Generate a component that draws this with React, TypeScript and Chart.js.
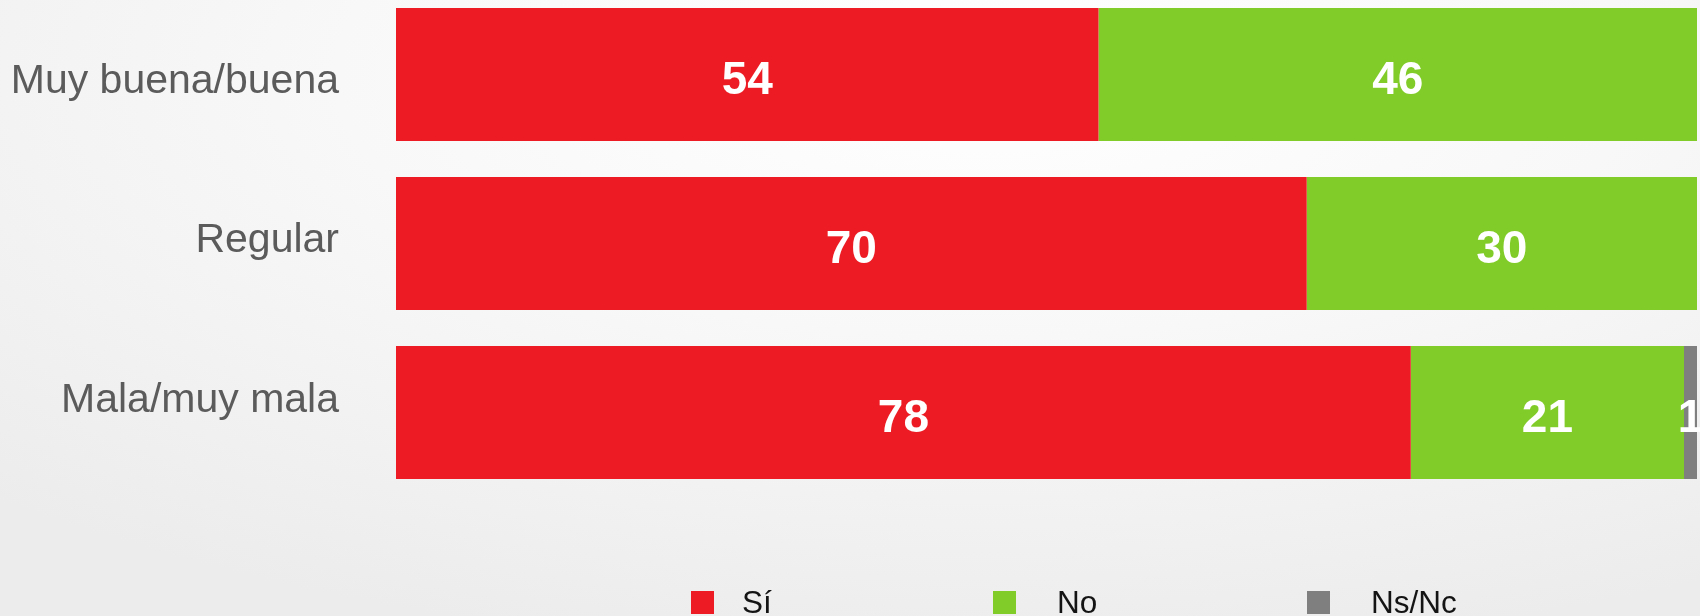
import React, { useEffect, useRef } from "react";
import { Chart, registerables } from "chart.js";

Chart.register(...registerables);

const categories = ["Muy buena/buena", "Regular", "Mala/muy mala"];
const seriesNames = ["Sí", "No", "Ns/Nc"];
const siValues = [54, 70, 78];
const noValues = [46, 30, 21];
const nsncValues = [0, 0, 1];
const seriesColors = ["#ed1c24", "#81cc28", "#7f7f80"];

// layout only: legend item positions and category-label baseline nudges
const legendBoxX = [691, 993, 1307];
const legendTextX = [742, 1057, 1371];
const labelBaselineNudge = [18.5, 8.5, -1];

const categoryLabelsPlugin = {
  id: "categoryLabels",
  afterDraw(chart: any) {
    const ctx = chart.ctx;
    const yScale = chart.scales.y;
    ctx.save();
    ctx.fillStyle = "#5b5b5b";
    ctx.font = "41px 'Liberation Sans', Arial, sans-serif";
    ctx.textAlign = "right";
    ctx.textBaseline = "alphabetic";
    (chart.data.labels as string[]).forEach((label: string, i: number) => {
      const y = yScale.getPixelForTick(i) + (labelBaselineNudge[i] ?? 15);
      ctx.fillText(label, chart.chartArea.left - 57, y);
    });
    ctx.restore();
  },
};

const valueLabelsPlugin = {
  id: "valueLabels",
  afterDatasetsDraw(chart: any) {
    const ctx = chart.ctx;
    ctx.save();
    ctx.fillStyle = "#ffffff";
    ctx.font = "bold 46px 'Liberation Sans', Arial, sans-serif";
    ctx.textAlign = "center";
    ctx.textBaseline = "alphabetic";
    chart.data.datasets.forEach((ds: any, di: number) => {
      const meta = chart.getDatasetMeta(di);
      meta.data.forEach((el: any, i: number) => {
        const v = ds.data[i];
        if (!v) return;
        const cx = (el.x + el.base) / 2;
        ctx.fillText(String(v), cx, el.y + 19.5);
      });
    });
    ctx.restore();
  },
};

const customLegendPlugin = {
  id: "customLegend",
  afterDraw(chart: any) {
    const ctx = chart.ctx;
    ctx.save();
    chart.data.datasets.forEach((ds: any, di: number) => {
      ctx.fillStyle = ds.backgroundColor;
      ctx.fillRect(legendBoxX[di], 591, 23, 23);
      ctx.fillStyle = "#141414";
      ctx.font = "31.5px 'Liberation Sans', Arial, sans-serif";
      ctx.textAlign = "left";
      ctx.textBaseline = "alphabetic";
      ctx.fillText(ds.label, legendTextX[di], 613);
    });
    ctx.restore();
  },
};

export default function App() {
  const canvasRef = useRef<HTMLCanvasElement | null>(null);

  useEffect(() => {
    if (!canvasRef.current) return;
    const seriesValues = [siValues, noValues, nsncValues];
    const chart = new Chart(canvasRef.current, {
      type: "bar",
      data: {
        labels: categories,
        datasets: seriesNames.map((name, i) => ({
          label: name,
          data: seriesValues[i],
          backgroundColor: seriesColors[i],
          borderWidth: 0,
          barPercentage: 0.787,
          categoryPercentage: 1,
          clip: false as any,
        })),
      },
      options: {
        indexAxis: "y",
        responsive: false,
        animation: false,
        layout: { padding: { left: 396, right: 3, top: 74.5, bottom: 203.5 } },
        plugins: {
          legend: { display: false },
          tooltip: { enabled: false },
        },
        scales: {
          x: {
            stacked: true,
            min: 0,
            max: 100,
            display: false,
          },
          y: {
            type: "category",
            stacked: true,
            offset: false,
            display: false,
          },
        },
      },
      plugins: [valueLabelsPlugin, categoryLabelsPlugin, customLegendPlugin],
    });
    return () => chart.destroy();
  }, []);

  return (
    <div
      style={{
        position: "absolute",
        left: 0,
        top: 0,
        width: 1700,
        height: 616,
        background:
          "radial-gradient(ellipse 85% 95% at 58% 12%, #ffffff 0%, #f8f8f8 45%, #ececec 100%)",
      }}
    >
      <canvas ref={canvasRef} width={1700} height={616} style={{ display: "block" }} />
    </div>
  );
}
